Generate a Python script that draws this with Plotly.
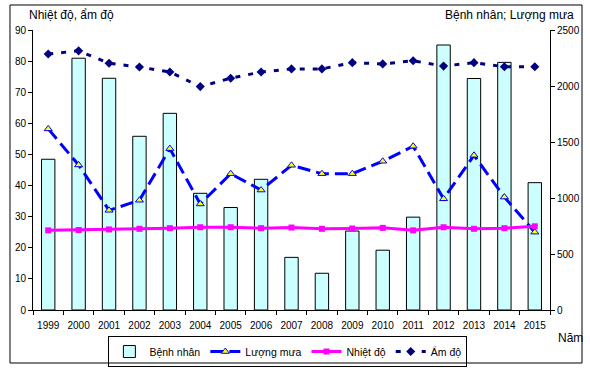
import plotly.graph_objects as go

years = [str(y) for y in range(1999, 2016)]
benh_nhan = [1346, 2248, 2069, 1551, 1756, 1042, 915, 1167, 470, 328, 705, 534, 829, 2366, 2067, 2211, 1137]
luong_mua = [1617, 1295, 890, 980, 1441, 947, 1217, 1071, 1292, 1217, 1217, 1328, 1462, 993, 1381, 1008, 695]
nhiet_do = [25.6, 25.7, 25.9, 26.1, 26.3, 26.6, 26.6, 26.3, 26.5, 26.1, 26.2, 26.4, 25.6, 26.6, 26.1, 26.3, 26.9]
am_do = [82.3, 83.3, 79.3, 78.1, 76.5, 71.8, 74.5, 76.5, 77.5, 77.5, 79.5, 79.1, 80.1, 78.4, 79.5, 78.2, 78.2]

FONT = "Liberation Sans, Arial, sans-serif"

fig = go.Figure()
fig.add_trace(go.Bar(
    x=years, y=benh_nhan, name="Bệnh nhân", yaxis="y",
    width=0.44,
    marker=dict(color="#CCFFFF", line=dict(color="black", width=1)),
))
fig.add_trace(go.Scatter(
    x=years, y=luong_mua, name="Lượng mưa", yaxis="y", mode="lines+markers",
    line=dict(color="#0000FF", width=3, dash="13px,6px"),
    marker=dict(symbol="triangle-up", size=7, color="#FFFF00", line=dict(color="#0000FF", width=1)),
))
fig.add_trace(go.Scatter(
    x=years, y=nhiet_do, name="Nhiệt độ", yaxis="y2", mode="lines+markers",
    line=dict(color="#FF00FF", width=3),
    marker=dict(symbol="square", size=6, color="#FF00FF"),
))
fig.add_trace(go.Scatter(
    x=years, y=am_do, name="Ẩm độ", yaxis="y2", mode="lines+markers",
    line=dict(color="#000080", width=3, dash="5px,8px"),
    marker=dict(symbol="diamond", size=7, color="#000080"),
))

axis_common = dict(
    showline=True, linecolor="black", linewidth=1, ticks="outside", ticklen=4,
    tickcolor="black", showgrid=False, zeroline=False, automargin=False,
    tickfont=dict(family=FONT, size=10, color="black"),
)

fig.update_layout(
    width=590, height=368,
    margin=dict(l=33, r=40, t=30, b=58, autoexpand=False),
    paper_bgcolor="white", plot_bgcolor="white",
    font=dict(family=FONT, size=11, color="black"),
    xaxis=dict(type="category", tickson="boundaries", tickangle=0, ticklabelstandoff=6,
               range=[-0.5, len(years) - 0.5], **axis_common),
    yaxis=dict(side="right", range=[0, 2500], dtick=500, **axis_common),
    yaxis2=dict(side="left", overlaying="y", anchor="x", range=[0, 90], dtick=10, **axis_common),
    legend=dict(
        orientation="h", x=0.493, xanchor="center", y=-0.093, yanchor="top",
        bordercolor="black", borderwidth=1, bgcolor="rgba(255,255,255,0)",
        font=dict(family=FONT, size=10.5, color="black"),
        tracegroupgap=0,
    ),
    showlegend=True,
)

fig.add_annotation(text="Nhiệt độ, ẩm độ", xref="paper", yref="paper", x=-0.012, y=1.054,
                   xanchor="left", yanchor="middle", showarrow=False, font=dict(family=FONT, size=12))
fig.add_annotation(text="Bệnh nhân; Lượng mưa", xref="paper", yref="paper", x=1.05, y=1.054,
                   xanchor="right", yanchor="middle", showarrow=False, font=dict(family=FONT, size=12))
fig.add_annotation(text="Năm", xref="paper", yref="paper", x=1.0116, y=-0.1,
                   xanchor="left", yanchor="middle", showarrow=False, font=dict(family=FONT, size=12))

fig.add_shape(type="rect", xref="paper", yref="paper", x0=-0.0445, x1=1.0619, y0=-0.1893, y1=1.0893,
              line=dict(color="black", width=1), fillcolor="rgba(0,0,0,0)", layer="above")

fig.write_html("out.html", config={"displayModeBar": False},
               post_script="document.body.style.margin='0';")
